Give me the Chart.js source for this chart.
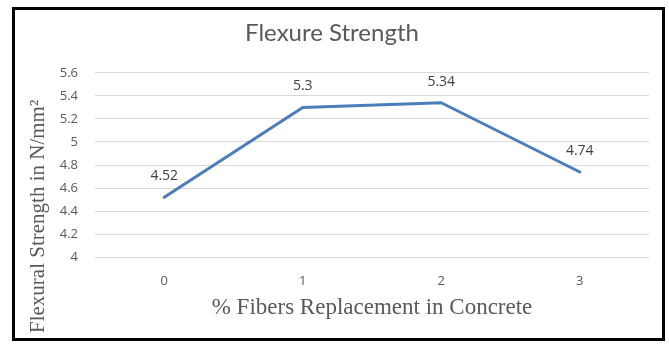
<!DOCTYPE html>
<html>
<head>
<meta charset="utf-8">
<script src="https://cdn.jsdelivr.net/npm/chart.js@4/dist/chart.umd.min.js"></script>
<style>
  html, body { margin: 0; padding: 0; background: #fff; }
  #frame {
    position: absolute; left: 12px; top: 7px;
    width: 653px; height: 334px;
    border: 3px solid #000; box-sizing: border-box; background: #fff;
  }
  #frame canvas { display: block; }
</style>
</head>
<body>
<div id="frame"><canvas id="c" width="647" height="328"></canvas></div>
<script>
// Fibre dosage (% replacement) and measured flexural strength (N/mm²)
const fiberPercent = ['0', '1', '2', '3'];
const flexuralStrength = [4.52, 5.3, 5.34, 4.74];
const yTicks = [4, 4.2, 4.4, 4.6, 4.8, 5, 5.2, 5.4, 5.6];

const chartTitle = 'Flexure Strength';
const xTitle = '% Fibers Replacement in Concrete';
const yTitle = 'Flexural Strength in N/mm²';

const GREY = '#595959';

// Value labels above each point, positioned from the line's own point elements
const valueLabels = {
  id: 'valueLabels',
  afterDatasetsDraw(chart) {
    const ctx = chart.ctx;
    const meta = chart.getDatasetMeta(0);
    ctx.save();
    ctx.font = '14px "Open Sans", sans-serif';
    ctx.fillStyle = '#404040';
    ctx.textAlign = 'center';
    ctx.textBaseline = 'middle';
    meta.data.forEach((pt, i) => {
      ctx.fillText(String(chart.data.datasets[0].data[i]), pt.x, pt.y - 21);
    });
    ctx.restore();
  }
};

// Rotated serif title for the value axis
const yAxisTitle = {
  id: 'yAxisTitle',
  afterDraw(chart) {
    const ctx = chart.ctx;
    ctx.save();
    ctx.translate(23, 323);
    ctx.rotate(-Math.PI / 2);
    ctx.font = '21px "Liberation Serif", "Times New Roman", serif';
    ctx.fillStyle = GREY;
    ctx.textAlign = 'left';
    ctx.textBaseline = 'middle';
    ctx.fillText(yTitle, 0, 0);
    ctx.restore();
  }
};

new Chart(document.getElementById('c'), {
  type: 'line',
  data: {
    labels: fiberPercent,
    datasets: [{
      data: flexuralStrength,
      borderColor: '#4a7ebb',
      borderWidth: 3,
      pointRadius: 0,
      tension: 0,
      borderCapStyle: 'round',
      borderJoinStyle: 'round'
    }]
  },
  options: {
    responsive: false,
    animation: false,
    layout: { padding: { left: 0, right: 13, top: 0, bottom: 0 } },
    plugins: {
      legend: { display: false },
      tooltip: { enabled: false },
      title: {
        display: true,
        text: chartTitle,
        color: GREY,
        font: { family: 'Lato, "Open Sans", sans-serif', size: 24, weight: 'normal' },
        padding: { top: 9, bottom: 25 }
      }
    },
    scales: {
      x: {
        offset: true,
        grid: { display: false },
        border: { display: false },
        ticks: {
          color: GREY,
          font: { family: '"Open Sans", sans-serif', size: 13 },
          padding: 8
        },
        title: {
          display: true,
          text: xTitle,
          color: GREY,
          font: { family: '"Liberation Serif", "Times New Roman", serif', size: 23 },
          padding: { top: 0, bottom: 16 }
        },
        afterFit(scale) { scale.height = 80.7; }
      },
      y: {
        min: 4,
        max: 5.6,
        afterBuildTicks(scale) { scale.ticks = yTicks.map(v => ({ value: v })); },
        grid: { color: '#d9d9d9', lineWidth: 1, drawTicks: false },
        border: { display: false },
        ticks: {
          color: GREY,
          font: { family: '"Open Sans", sans-serif', size: 13 },
          padding: 17,
          callback: v => String(v)
        },
        afterFit(scale) { scale.width = 80; }
      }
    }
  },
  plugins: [valueLabels, yAxisTitle]
});
</script>
</body>
</html>
